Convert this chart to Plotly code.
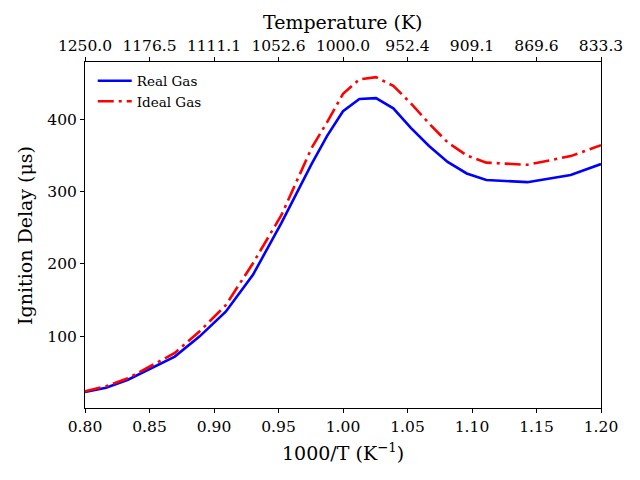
import plotly.graph_objects as go

# Data (x = 1000/T in 1/K, ignition delay in microseconds)
inv_T = [0.8, 0.8163, 0.8333, 0.8511, 0.8696, 0.8889, 0.9091, 0.9302, 0.9524, 0.9756,
         0.9877, 1.0, 1.0127, 1.0256, 1.039, 1.0526, 1.0667, 1.0811, 1.0959, 1.1111,
         1.1429, 1.1765, 1.2]
real_gas = [23, 29, 40, 56, 72, 100, 134, 185, 257, 338,
            377, 411, 428, 429, 415, 388, 363, 341, 325, 316,
            313, 323, 338]
ideal_gas = [24, 31, 42, 59, 77, 107, 143, 201, 268, 360,
             396, 435, 455, 458, 446, 422, 394, 368, 350, 340,
             337, 349, 364]

x_ticks = [0.80, 0.85, 0.90, 0.95, 1.00, 1.05, 1.10, 1.15, 1.20]
top_tick_labels = ["1250.0", "1176.5", "1111.1", "1052.6", "1000.0",
                   "952.4", "909.1", "869.6", "833.3"]
y_ticks = [100, 200, 300, 400]

FONT = "'DejaVu Serif', 'Liberation Serif', serif"

fig = go.Figure()
fig.add_trace(go.Scatter(x=inv_T, y=real_gas, mode="lines", name="Real Gas",
                         line=dict(color="#0000ff", width=2.6)))
fig.add_trace(go.Scatter(x=inv_T, y=ideal_gas, mode="lines", name="Ideal Gas",
                         line=dict(color="#ff0000", width=2.6, dash="16px,5px,3px,5px")))
# invisible trace to anchor the top axis
fig.add_trace(go.Scatter(x=[x_ticks[0], x_ticks[-1]], y=[real_gas[0], real_gas[-1]],
                         xaxis="x2", mode="lines", opacity=0, showlegend=False,
                         hoverinfo="skip"))

axis_common = dict(showgrid=False, zeroline=False, showline=True, linecolor="black",
                   linewidth=1, ticks="outside", ticklen=4, tickwidth=1,
                   tickcolor="black", automargin=False,
                   tickfont=dict(family=FONT, size=15.5, color="black"))

# The page body adds an 8px margin, so the figure is sized 624x464 to fill 640x480
fig.update_layout(
    width=624, height=464,
    template="none",
    paper_bgcolor="white", plot_bgcolor="white",
    margin=dict(l=77, r=31, t=54, b=64),
    font=dict(family=FONT, color="black"),
    xaxis=dict(range=[0.8, 1.2], tickvals=x_ticks, tickformat=".2f", **axis_common),
    xaxis2=dict(range=[0.8, 1.2], tickvals=x_ticks, ticktext=top_tick_labels,
                overlaying="x", side="top", anchor="y", **axis_common),
    yaxis=dict(range=[1, 479], tickvals=y_ticks, mirror=True, **axis_common),
    showlegend=True,
    legend=dict(x=0.015, y=0.99, xanchor="left", yanchor="top",
                bgcolor="rgba(0,0,0,0)", borderwidth=0,
                font=dict(family=FONT, size=13.5, color="black"),
                itemwidth=34, tracegroupgap=0),
    annotations=[
        dict(text="1000/T (K<sup>\u22121</sup>)", xref="paper", yref="paper",
             x=0.5, y=-0.127, xanchor="center", yanchor="middle", showarrow=False,
             font=dict(family=FONT, size=19, color="black")),
        dict(text="Temperature (K)", xref="paper", yref="paper",
             x=0.5, y=1.1156, xanchor="center", yanchor="middle", showarrow=False,
             font=dict(family=FONT, size=19, color="black")),
        dict(text="Ignition Delay (\u03bcs)", xref="paper", yref="paper",
             x=-0.1163, y=0.5, xanchor="center", yanchor="middle", showarrow=False,
             textangle=-90, font=dict(family=FONT, size=19, color="black")),
    ],
)

fig.write_html("out.html")
